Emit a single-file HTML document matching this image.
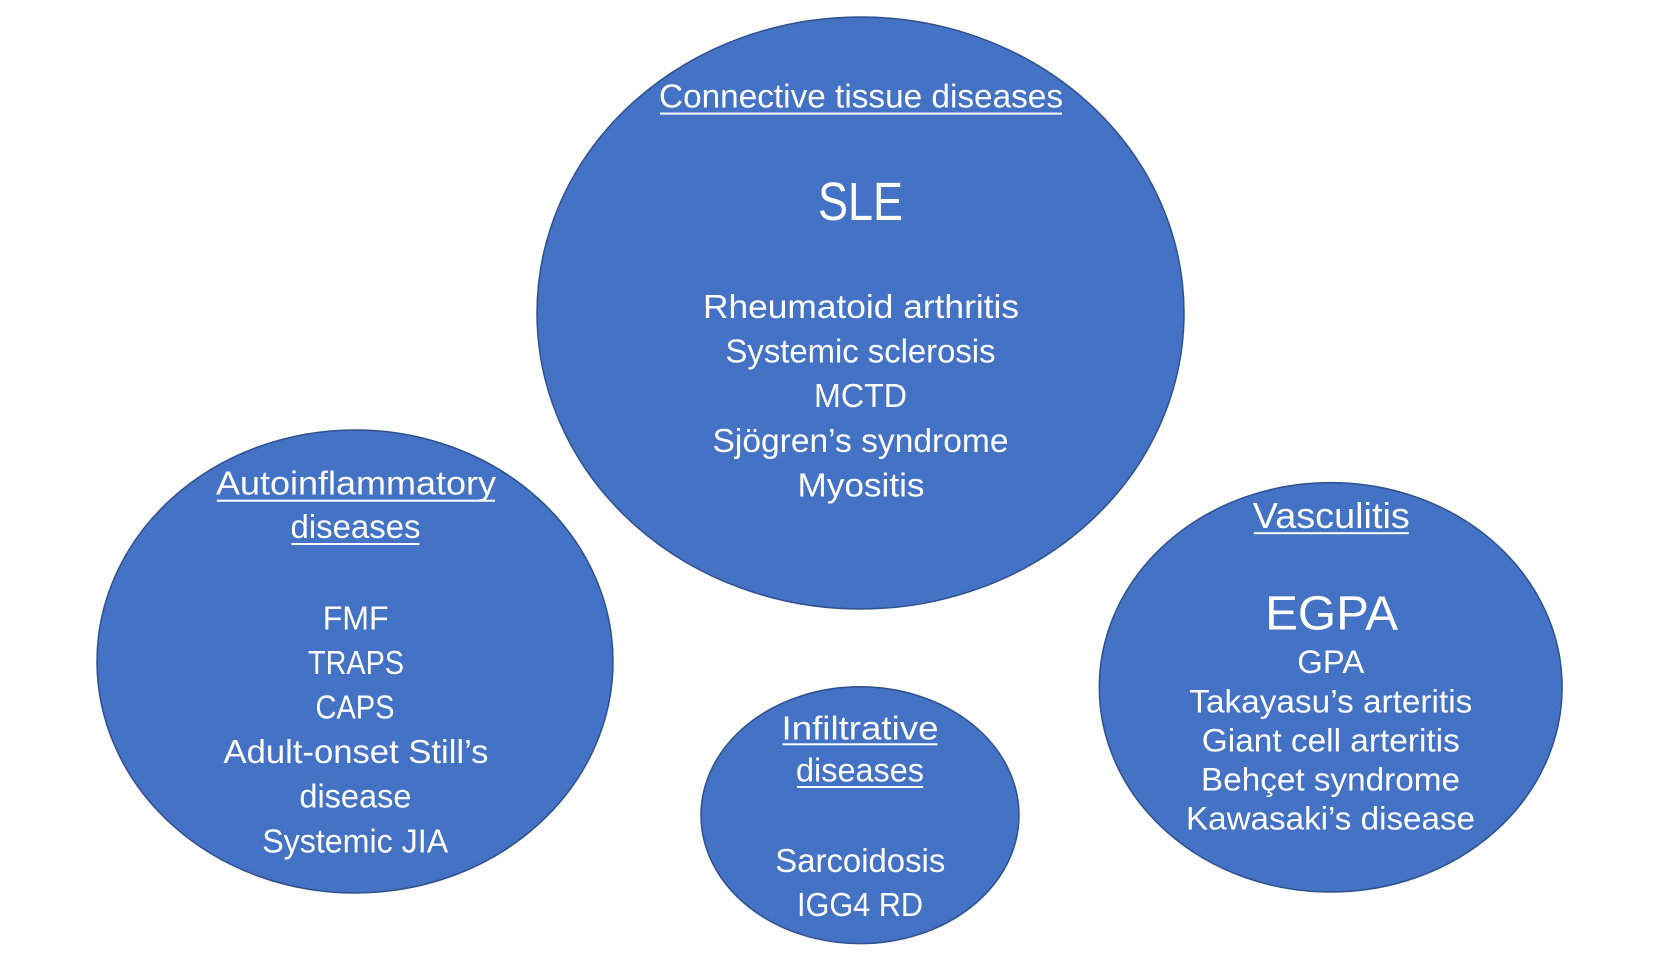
<!DOCTYPE html>
<html>
<head>
<meta charset="utf-8">
<style>
  html, body { margin: 0; padding: 0; background: #ffffff; }
  body { width: 1662px; height: 962px; overflow: hidden; }
  svg { display: block; }
  .c { font-family: "Liberation Sans", sans-serif; fill: #ffffff; text-anchor: middle; font-size: 33.5px; }
  .a { font-family: "Liberation Sans", sans-serif; fill: #ffffff; text-anchor: middle; font-size: 32px; }
</style>
</head>
<body>
<svg width="1662" height="962" viewBox="0 0 1662 962" xmlns="http://www.w3.org/2000/svg">
  <g fill="#4472C4" stroke="#2F528F" stroke-width="1.5">
    <ellipse cx="860.5" cy="313" rx="323.5" ry="296"/>
    <ellipse cx="355" cy="661.5" rx="258" ry="231.5"/>
    <ellipse cx="1330.7" cy="687.3" rx="231.4" ry="204.7"/>
    <ellipse cx="860" cy="815.2" rx="159" ry="128.4"/>
  </g>

  <!-- Connective tissue diseases -->
  <text class="c" x="861" y="107.5" textLength="404" lengthAdjust="spacingAndGlyphs">Connective tissue diseases</text>
  <rect x="660" y="112.6" width="402" height="2" fill="#ffffff"/>
  <text class="c" x="860.5" y="220" style="font-size:54px" textLength="85" lengthAdjust="spacingAndGlyphs">SLE</text>
  <text class="c" x="861" y="318" textLength="316" lengthAdjust="spacingAndGlyphs">Rheumatoid arthritis</text>
  <text class="c" x="860.5" y="362.6" textLength="270" lengthAdjust="spacingAndGlyphs">Systemic sclerosis</text>
  <text class="c" x="860.5" y="407.2" textLength="93" lengthAdjust="spacingAndGlyphs">MCTD</text>
  <text class="c" x="860.5" y="451.8" textLength="296" lengthAdjust="spacingAndGlyphs">Sjögren’s syndrome</text>
  <text class="c" x="861" y="496.4" textLength="127" lengthAdjust="spacingAndGlyphs">Myositis</text>

  <!-- Autoinflammatory diseases -->
  <text class="c" x="356" y="494.6" textLength="280" lengthAdjust="spacingAndGlyphs">Autoinflammatory</text>
  <rect x="216.8" y="499.7" width="278.2" height="2" fill="#ffffff"/>
  <text class="c" x="355.5" y="538.2" textLength="130" lengthAdjust="spacingAndGlyphs">diseases</text>
  <rect x="291.4" y="543" width="128" height="2" fill="#ffffff"/>
  <text class="c" x="355.7" y="629.3" textLength="66" lengthAdjust="spacingAndGlyphs">FMF</text>
  <text class="c" x="356" y="673.9" textLength="96" lengthAdjust="spacingAndGlyphs">TRAPS</text>
  <text class="c" x="355" y="718.5" textLength="79" lengthAdjust="spacingAndGlyphs">CAPS</text>
  <text class="c" x="356" y="763.1" textLength="265" lengthAdjust="spacingAndGlyphs">Adult-onset Still’s</text>
  <text class="c" x="355.4" y="807.7" textLength="112" lengthAdjust="spacingAndGlyphs">disease</text>
  <text class="c" x="355.2" y="852.3" textLength="186" lengthAdjust="spacingAndGlyphs">Systemic JIA</text>

  <!-- Vasculitis -->
  <text class="a" x="1331.3" y="528.2" style="font-size:36px" textLength="157" lengthAdjust="spacingAndGlyphs">Vasculitis</text>
  <rect x="1253.8" y="532.2" width="155" height="2" fill="#ffffff"/>
  <text class="a" x="1331.6" y="629.7" style="font-size:48px" textLength="133" lengthAdjust="spacingAndGlyphs">EGPA</text>
  <text class="a" x="1330.8" y="673" textLength="67" lengthAdjust="spacingAndGlyphs">GPA</text>
  <text class="a" x="1330.8" y="712.3" textLength="283" lengthAdjust="spacingAndGlyphs">Takayasu’s arteritis</text>
  <text class="a" x="1330.8" y="751.3" textLength="258" lengthAdjust="spacingAndGlyphs">Giant cell arteritis</text>
  <text class="a" x="1330.5" y="790.5" textLength="259" lengthAdjust="spacingAndGlyphs">Behçet syndrome</text>
  <text class="a" x="1330.5" y="829.5" textLength="289" lengthAdjust="spacingAndGlyphs">Kawasaki’s disease</text>

  <!-- Infiltrative diseases -->
  <text class="c" x="860" y="739.3" textLength="157" lengthAdjust="spacingAndGlyphs">Infiltrative</text>
  <rect x="782.4" y="743.3" width="155" height="2" fill="#ffffff"/>
  <text class="c" x="860" y="781.5" textLength="128" lengthAdjust="spacingAndGlyphs">diseases</text>
  <rect x="797" y="786" width="126.2" height="2" fill="#ffffff"/>
  <text class="c" x="860.3" y="871.8" textLength="170" lengthAdjust="spacingAndGlyphs">Sarcoidosis</text>
  <text class="c" x="860" y="916" textLength="126" lengthAdjust="spacingAndGlyphs">IGG4 RD</text>
</svg>
</body>
</html>
